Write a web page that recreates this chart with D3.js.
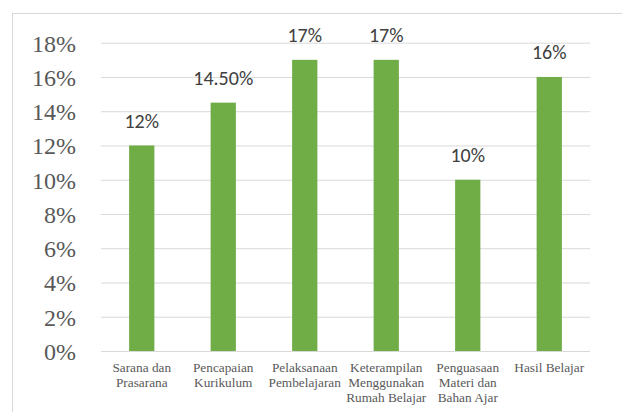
<!DOCTYPE html>
<html><head><meta charset="utf-8">
<script src="https://cdn.jsdelivr.net/npm/d3@7"></script>
<style>html,body{margin:0;padding:0;background:#fff;}svg{display:block;}</style>
</head><body>
<script>
const categories = [
  ["Sarana dan","Prasarana"],
  ["Pencapaian","Kurikulum"],
  ["Pelaksanaan","Pembelajaran"],
  ["Keterampilan","Menggunakan","Rumah Belajar"],
  ["Penguasaan","Materi dan","Bahan Ajar"],
  ["Hasil Belajar"]
];
const values = [12, 14.5, 17, 17, 10, 16];
const valueLabels = ["12%","14.50%","17%","17%","10%","16%"];
const yTicks = [0,2,4,6,8,10,12,14,16,18];

const SERIF = '"Liberation Serif"';
const SANS = '"Carlito"';

const W = 622, H = 412;
const svg = d3.select("body").append("svg").attr("width", W).attr("height", H);

svg.append("rect").attr("x",12.5).attr("y",13.5).attr("width",W).attr("height",H)
  .attr("fill","none").attr("stroke","#d9d9d9").attr("stroke-width",1);

const x = d3.scaleBand().domain(d3.range(categories.length)).range([101, 590]).paddingInner(0.69).paddingOuter(0.345);
const y = d3.scaleLinear().domain([0, 18]).range([351, 42.7]);

const yAxis = d3.axisLeft(y).tickValues(yTicks).tickFormat("").tickSize(-(590-101));
const gy = svg.append("g").attr("transform","translate(101,0)").call(yAxis);
gy.select(".domain").remove();
gy.selectAll(".tick line").attr("stroke","#d9d9d9").attr("stroke-width",1);
gy.selectAll(".tick text").remove();

svg.append("g").selectAll("text").data(yTicks).join("text")
  .attr("x",76).attr("y",d=>y(d)+8.8)
  .attr("text-anchor","end")
  .style("font-family",SERIF).style("font-size","24px").attr("fill","#595959")
  .text(d=>d+"%");

svg.append("g").selectAll("rect").data(values).join("rect")
  .attr("x",(d,i)=>x(i)).attr("width",x.bandwidth())
  .attr("y",d=>y(d)).attr("height",d=>y(0)-y(d))
  .attr("fill","#70ad47");

svg.append("g").selectAll("text").data(values).join("text")
  .attr("x",(d,i)=>x(i)+x.bandwidth()/2).attr("y",d=>y(d)-17.5)
  .attr("text-anchor","middle")
  .style("font-family",SANS).style("font-size","20px").attr("fill","#404040").text((d,i)=>valueLabels[i]);

const cg = svg.append("g").selectAll("text").data(categories).join("text")
  .attr("x",(d,i)=>x(i)+x.bandwidth()/2).attr("y",372)
  .attr("text-anchor","middle")
  .style("font-family",SERIF).style("font-size","13.3px").attr("fill","#595959");
cg.each(function(lines,i){
  const t = d3.select(this);
  lines.forEach((l,k)=>{
    t.append("tspan").attr("x",x(i)+x.bandwidth()/2).attr("y",372+k*14.8).text(l);
  });
});
</script>
</body></html>
